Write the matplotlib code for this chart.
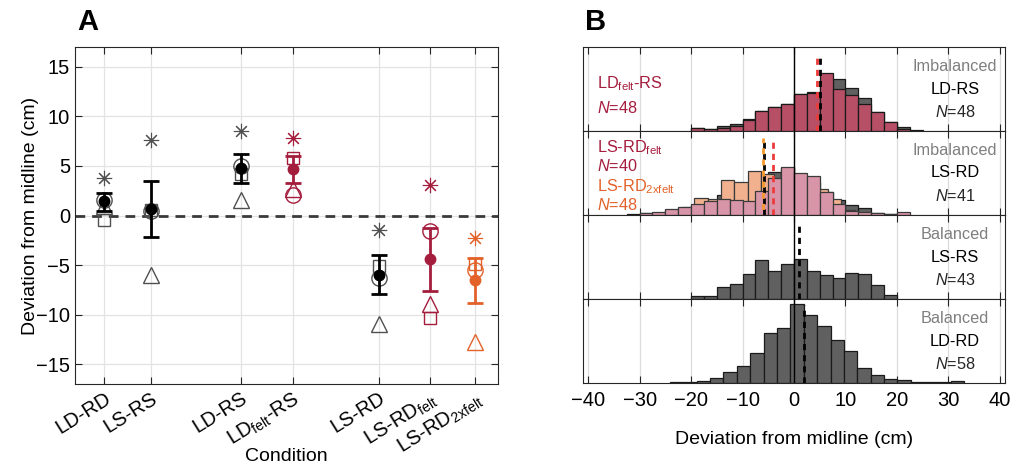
import numpy as np
import matplotlib.pyplot as plt

plt.rcParams['font.family'] = ['Liberation Sans', 'DejaVu Sans']
plt.rcParams['mathtext.fontset'] = 'custom'
plt.rcParams['mathtext.rm'] = 'Liberation Sans'
plt.rcParams['mathtext.it'] = 'Liberation Sans:italic'

# ---- Panel A data (cm) ----
conditions = ['LD-RD', 'LS-RS', 'LD-RS', r'LD$_{\rm felt}$-RS', 'LS-RD',
              r'LS-RD$_{\rm felt}$', r'LS-RD$_{\rm 2xfelt}$']
cond_pos = [1, 2.02, 4.0, 5.14, 7.03, 8.16, 9.15]
cond_kind = ['plain', 'plain', 'plain', 'felt', 'plain', 'felt', '2xfelt']
mean_dev = [1.44, 0.67, 4.77, 4.66, -5.98, -4.43, -6.5]
err_lo = [0.5, -2.2, 3.3, 3.25, -7.96, -7.6, -8.8]
err_hi = [2.25, 3.45, 6.2, 6.0, -4.0, -1.27, -4.3]
star_vals = [3.8, 7.6, 8.5, 7.8, -1.45, 3.1, -2.3]
circle_vals = [1.6, 0.5, 5.0, 2.1, -6.3, -1.6, -5.5]
square_vals = [-0.5, 0.6, 4.2, 5.8, -5.1, -10.3, -4.9]
triangle_vals = [1.0, -6.0, 1.6, 2.7, -10.9, -8.9, -12.76]

# ---- Panel B histogram data (bar heights, arbitrary units) ----
# LD-RS vs LDfelt-RS
ldrs_start, ldrs_w = -20, 2.5
ldrs_h = [9, 6, 14, 20, 35, 60, 72, 80, 112, 118, 150, 157, 128, 98, 57, 28, 12, 4]
ldfeltrs_start, ldfeltrs_w = -20, 2.5
ldfeltrs_h = [9, 5, 8, 14, 33, 59, 72, 80, 112, 115, 173, 125, 107, 80, 57, 28, 5]
# LS-RD vs LS-RDfelt vs LS-RD2xfelt
lsrd_start, lsrd_w = -32.5, 2.5
lsrd_h = [3, 5, 7, 15, 22, 30, 45, 60, 80, 95, 120, 130, 140, 115, 100, 70, 45, 30, 22, 6, 3]
lsrdfelt_start, lsrdfelt_w = -30, 2.5
lsrdfelt_h = [5, 8, 18, 23, 33, 41, 48, 45, 42, 72, 110, 145, 125, 117, 68, 33, 13, 8, 5, 4, 8]
lsrd2x_start, lsrd2x_w = -27.2, 2.6
lsrd2x_h = [4, 10, 25, 50, 48, 105, 98, 133, 122, 100, 90, 85, 77, 48, 15, 5]
# LS-RS
lsrs_start, lsrs_w = -20, 2.5
lsrs_h = [8, 10, 36, 46, 75, 117, 83, 105, 121, 85, 72, 63, 78, 75, 41, 12]
# LD-RD
ldrd_start, ldrd_w = -24.1, 2.6
ldrd_h = [2, 4, 5, 14, 32, 50, 89, 151, 164, 237, 205, 172, 130, 97, 45, 23, 12, 9, 3, 3, 3, 7]

# means shown as dashed lines
mean_ldrs, mean_ldfeltrs = 5.1, 4.5
mean_lsrd, mean_lsrd2x, mean_lsrdfelt = -5.9, -6.1, -4.0
mean_lsrs = 1.0
mean_ldrd = 1.9

gray_mk = '#505050'
crimson = '#A51D3D'
orange = '#E2622A'
kind_color = {'plain': (gray_mk, 'black'), 'felt': (crimson, crimson), '2xfelt': (orange, orange)}

fig = plt.figure(figsize=(10.13, 4.7), dpi=100)

# ================= Panel A =================
axA = fig.add_axes([75 / 1013, 1 - 384 / 470, 423 / 1013, 337 / 470])
axA.axhline(0, color='#3a3a3a', lw=2, ls=(0, (3.5, 2.5)), zorder=2)
for i, x in enumerate(cond_pos):
    mc, mean_c = kind_color[cond_kind[i]]
    axA.plot(x, star_vals[i], marker=(8, 2, 0), ms=11, mec=mc, mew=0.8, ls='none', zorder=3)
    axA.plot(x, triangle_vals[i], marker='^', ms=11, mfc='none', mec=mc, mew=1.0, ls='none', zorder=3)
    axA.plot(x, square_vals[i], marker='s', ms=8, mfc='none', mec=mc, mew=1.0, ls='none', zorder=3)
    axA.plot(x, circle_vals[i], marker='o', ms=11, mfc='none', mec=mc, mew=1.0, ls='none', zorder=3)
    axA.errorbar(x, mean_dev[i],
                 yerr=[[mean_dev[i] - err_lo[i]], [err_hi[i] - mean_dev[i]]],
                 fmt='o', ms=7.5, color=mean_c, ecolor=mean_c, elinewidth=2,
                 capsize=6, capthick=2, zorder=4)

axA.set_xlim(0.36, 9.65)
axA.set_ylim(-17, 17)
axA.set_xticks(cond_pos)
axA.set_xticklabels(conditions, rotation=32, ha='right', va='top',
                    rotation_mode='anchor', fontsize=14.5)
axA.set_yticks([-15, -10, -5, 0, 5, 10, 15])
axA.tick_params(axis='y', labelsize=14.5)
axA.tick_params(direction='in', top=True, right=True, length=5, color='#262626')
axA.grid(True, color='#e3e3e3', lw=0.9)
axA.set_axisbelow(True)
for s in axA.spines.values():
    s.set_color('#262626')
axA.set_ylabel('Deviation from midline (cm)', fontsize=14, labelpad=-2)
axA.set_xlabel('Condition', fontsize=14, labelpad=-7)
fig.text(77 / 1013, 1 - 22 / 470, 'A', fontsize=21, fontweight='bold', va='center')

# ================= Panel B =================
left_b, width_b = 583 / 1013, 422 / 1013
h_b = 84 / 470
bottoms = [1 - 131 / 470, 1 - 215 / 470, 1 - 299 / 470, 1 - 383 / 470]
axs = [fig.add_axes([left_b, b, width_b, h_b]) for b in bottoms]


def hist_bars(ax, start, w, heights, color, edge, z):
    edges = start + w * np.arange(len(heights))
    ax.bar(edges, heights, width=w, align='edge', color=color,
           edgecolor=edge, linewidth=0.9, zorder=z)


bar_gray = '#606060'
bar_crimson = '#B74F66'
bar_pink = '#D995A8'
bar_peach = '#F1B18F'
red_line = '#EC3B3B'
orange_line = '#F59A2E'

hist_bars(axs[0], ldrs_start, ldrs_w, ldrs_h, bar_gray, '#1a1a1a', 2)
hist_bars(axs[0], ldfeltrs_start, ldfeltrs_w, ldfeltrs_h, bar_crimson, '#1a1a1a', 3)
hist_bars(axs[1], lsrd_start, lsrd_w, lsrd_h, bar_gray, '#1a1a1a', 2)
hist_bars(axs[1], lsrd2x_start, lsrd2x_w, lsrd2x_h, bar_peach, '#3a3a3a', 3)
hist_bars(axs[1], lsrdfelt_start, lsrdfelt_w, lsrdfelt_h, bar_pink, '#3a3a3a', 4)
hist_bars(axs[2], lsrs_start, lsrs_w, lsrs_h, bar_gray, '#1a1a1a', 2)
hist_bars(axs[3], ldrd_start, ldrd_w, ldrd_h, bar_gray, '#1a1a1a', 2)

dash = (0, (2.2, 1.8))
axs[0].axvline(mean_ldrs, ymax=0.92, color='black', lw=2, ls=dash, zorder=5)
axs[0].axvline(mean_ldfeltrs, ymax=0.92, color=red_line, lw=2, ls=dash, zorder=5)
axs[1].axvline(mean_lsrd, ymax=0.92, color='black', lw=2, ls=dash, zorder=5)
axs[1].axvline(mean_lsrd2x, ymax=0.92, color=orange_line, lw=2, ls=(2, (2.2, 1.8)), zorder=5)
axs[1].axvline(mean_lsrdfelt, ymax=0.92, color=red_line, lw=2, ls=dash, zorder=5)
axs[2].axvline(mean_lsrs, ymax=0.9, color='black', lw=2, ls=dash, zorder=5)
axs[3].axvline(mean_ldrd, ymax=0.93, color='black', lw=2, ls=dash, zorder=5)

for k, ax in enumerate(axs):
    ax.axvline(0, color='black', lw=1, zorder=4)
    ax.set_xlim(-41, 41)
    ax.set_ylim(0, 252)
    ax.set_yticks([])
    ax.set_xticks(np.arange(-40, 41, 10))
    ax.grid(True, axis='x', color='#dcdcdc', lw=0.9)
    ax.set_axisbelow(True)
    ax.tick_params(direction='in', top=True, bottom=True, length=5, color='#262626',
                   labelsize=14.5, pad=6)
    for s in ax.spines.values():
        s.set_color('#262626')
    if k < 3:
        ax.tick_params(labelbottom=False)

axs[3].set_xlabel('Deviation from midline (cm)', fontsize=14, labelpad=15)

xl, xr = -38.2, 31.3
fs = 11.7
grey_txt = '#7f7f7f'
# panel 1
tr0 = axs[0].get_xaxis_transform()
axs[0].text(xl, 0.56, r'LD$_{\rm felt}$-RS', color=crimson, fontsize=fs, va='center', transform=tr0)
axs[0].text(xl, 0.27, r'$N$=48', color=crimson, fontsize=fs, va='center', transform=tr0)
# panel 2
tr1 = axs[1].get_xaxis_transform()
axs[1].text(xl, 0.8, r'LS-RD$_{\rm felt}$', color=crimson, fontsize=fs, va='center', transform=tr1)
axs[1].text(xl, 0.58, r'$N$=40', color=crimson, fontsize=fs, va='center', transform=tr1)
axs[1].text(xl, 0.34, r'LS-RD$_{\rm 2xfelt}$', color=orange, fontsize=fs, va='center', transform=tr1)
axs[1].text(xl, 0.12, r'$N$=48', color=orange, fontsize=fs, va='center', transform=tr1)

right_labels = [('Imbalanced', 'LD-RS', r'$N$=48'),
                ('Imbalanced', 'LS-RD', r'$N$=41'),
                ('Balanced', 'LS-RS', r'$N$=43'),
                ('Balanced', 'LD-RD', r'$N$=58')]
for ax, (top_t, mid_t, n_t) in zip(axs, right_labels):
    tr = ax.get_xaxis_transform()
    ax.text(xr, 0.77, top_t, color=grey_txt, fontsize=fs, ha='center', va='center', transform=tr, zorder=6)
    ax.text(xr, 0.5, mid_t, color='black', fontsize=fs, ha='center', va='center', transform=tr, zorder=6)
    ax.text(xr, 0.23, n_t, color='#262626', fontsize=fs, ha='center', va='center', transform=tr, zorder=6)

fig.text(585 / 1013, 1 - 22 / 470, 'B', fontsize=21, fontweight='bold', va='center')

fig.savefig('out.png', dpi=100)
